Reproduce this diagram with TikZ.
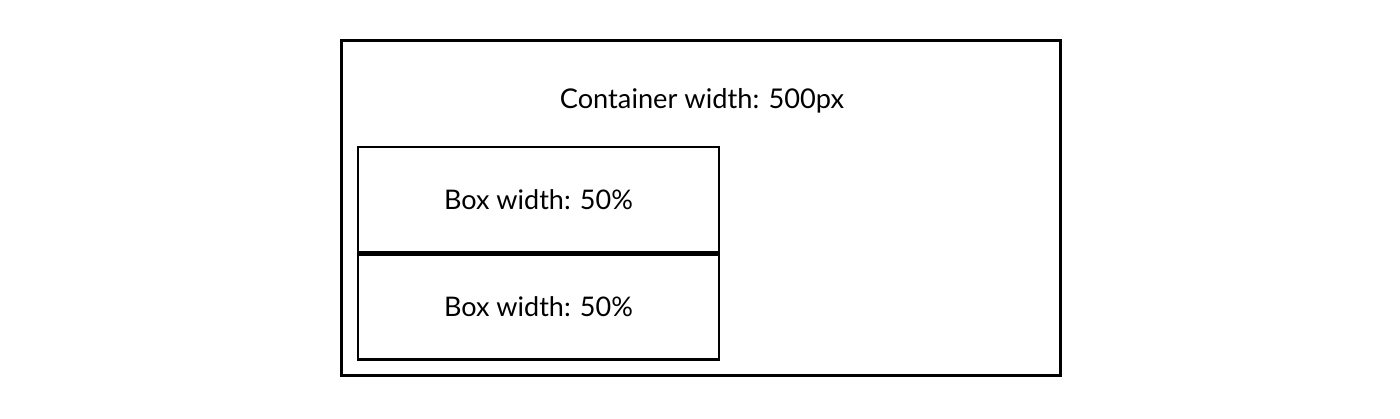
\documentclass[tikz,border=0pt]{standalone}
\usepackage{fontspec}
\setmainfont{Lato}
\usetikzlibrary{positioning}

\tikzset{
 outerbox/.style={draw=black, line width=1.5pt, minimum width=359.5pt, minimum height=167.5pt, inner sep=0pt},
 halfbox/.style={draw=black, line width=1.3pt, minimum width=180.5pt, minimum height=52.5pt, inner sep=0pt, font=\fontsize{13.5}{16}\selectfont}
}

\begin{document}
\begin{tikzpicture} [x=0.5pt, y=-0.5pt]
\useasboundingbox (0,0) rectangle (1400,418);
\node[outerbox] (container) at (701,208.25) {};
\node[font=\fontsize{13.6}{16}\selectfont] (title) at (702,101) {Container width: 500px};
\node[halfbox] (box1) at (538.5,199.5) {Box width: 50\%};
\node[halfbox, below=0pt of box1] (box2) {Box width: 50\%};
\end{tikzpicture}
\end{document}
